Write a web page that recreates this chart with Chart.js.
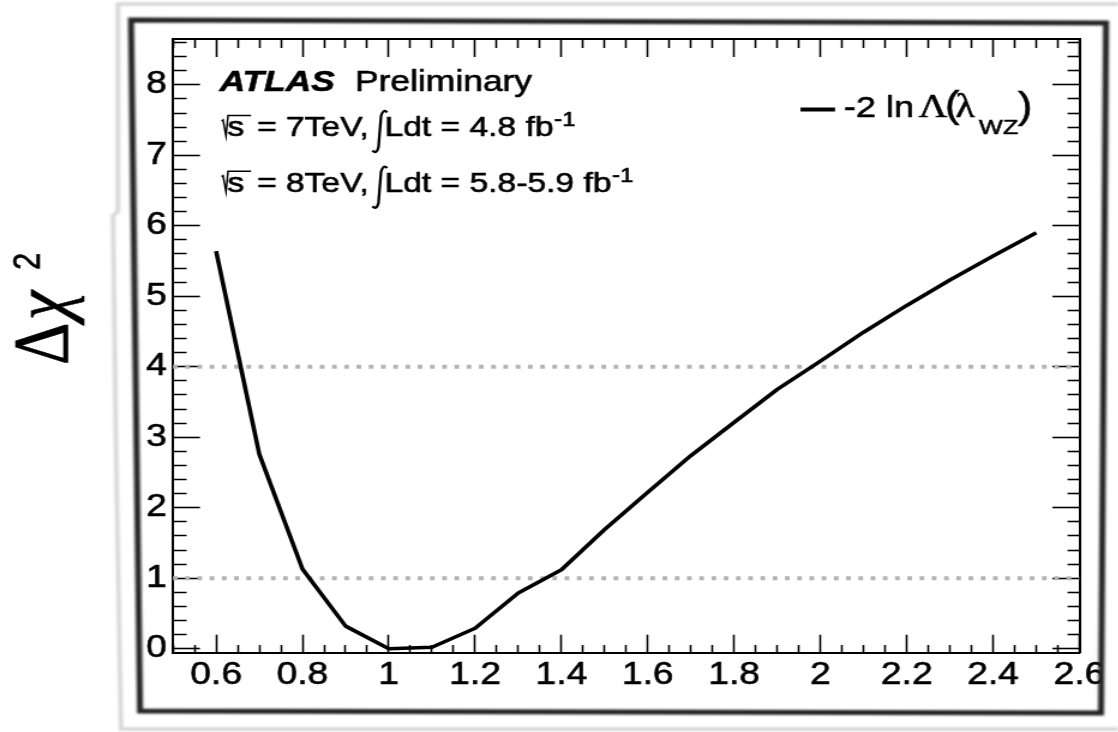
<!DOCTYPE html>
<html>
<head>
<meta charset="utf-8">
<script src="https://cdn.jsdelivr.net/npm/chart.js@4.4.0/dist/chart.umd.min.js"></script>
<style>
  html, body { margin: 0; padding: 0; background: #fff; overflow: hidden; }
  /* the plot is laid out narrow and widened on screen, like the scanned ROOT canvas */
  #wrap { position: absolute; left: 0; top: 0; width: 932px; height: 732px; transform: scaleX(1.2); transform-origin: 0 0; }
</style>
</head>
<body>
<div id="wrap"><canvas id="ShowChart" width="932" height="732"></canvas></div>
<script>
// likelihood scan in lambda_WZ
var lambda_wz = [0.6, 0.7, 0.8, 0.9, 1.0, 1.1, 1.2, 1.3, 1.4, 1.5, 1.6, 1.7, 1.8, 1.9, 2.0, 2.1, 2.2, 2.3, 2.4, 2.5]
var delta_chi2 = [5.64, 2.76, 1.13, 0.32, 0.00, 0.02, 0.29, 0.79, 1.12, 1.69, 2.22, 2.74, 3.21, 3.68, 4.08, 4.49, 4.87, 5.23, 5.57, 5.90]
// 1 and 2 sigma reference levels
var sigma_levels = [1, 4]

var x_labels = ["0.6", "0.8", "1", "1.2", "1.4", "1.6", "1.8", "2", "2.2", "2.4", "2.6"]
var y_labels = ["0", "1", "2", "3", "4", "5", "6", "7", "8"]
var x_range = [0.5, 2.6]
var y_range = [-0.057, 8.65]
var x_minor_step = 0.05
var y_minor_step = 0.2

var STRETCH = 1.2
var TEXT_STROKE = 0.6
function cx(x){ return x / STRETCH }   // screen px -> canvas px

function Tick_Values(min, max, step){
  var ticks = []
  for (var i = Math.ceil(min / step - 1e-9); i * step <= max + 1e-9; i++){
    ticks.push({value: Math.round(i * step * 1000) / 1000})
  }
  return ticks
}

function Is_Major(value, labels){
  return labels.indexOf(String(value)) >= 0
}

// ROOT style axis: ticks pointing into the frame, short minor ticks via dash pattern
function Make_Axis(position, labels, range, step, tick_len, minor_len, size, pad){
  var from_inside = (position == "left" || position == "top")
  return {
    type: "linear",
    position: position,
    axis: (position == "left" || position == "right") ? "y" : "x",
    min: range[0],
    max: range[1],
    afterBuildTicks: function(scale){ scale.ticks = Tick_Values(range[0], range[1], step) },
    afterFit: function(scale){
      if (scale.isHorizontal()) scale.height = size
      else scale.width = size
      // frame is fixed, labels may hang over the edges
      scale.paddingLeft = 0
      scale.paddingRight = 0
      scale.paddingTop = 0
      scale.paddingBottom = 0
    },
    border: {display: true, color: "#000", width: 2},
    grid: {
      drawOnChartArea: false,
      tickLength: -tick_len,
      tickColor: "#000",
      tickWidth: 1.6,
      tickBorderDash: function(ctx){
        if (!ctx.tick || Is_Major(ctx.tick.value, labels)) return []
        return from_inside ? [0, tick_len - minor_len, minor_len, 300] : [minor_len, 300]
      }
    },
    ticks: {
      display: pad != null,
      autoSkip: false,
      maxRotation: 0,
      minRotation: 0,
      padding: pad || 0,
      color: "#000",
      textStrokeColor: "#000",
      textStrokeWidth: TEXT_STROKE,
      font: {family: "'Liberation Sans', Arial, sans-serif", size: 31, lineHeight: 1},
      callback: function(value){ return Is_Major(value, labels) ? String(value) : "" }
    }
  }
}

function Draw_Text(c, text, x, y, font){
  c.font = font
  c.lineWidth = TEXT_STROKE
  c.strokeText(text, x, y)
  c.fillText(text, x, y)
  return x + c.measureText(text).width
}

function Energy_Line(c, base, energy, lumi){
  var f = "28px 'Liberation Sans'"
  // square root over s
  c.lineWidth = 1.5
  c.beginPath()
  c.moveTo(cx(221.5), base - 15)
  c.lineTo(cx(223), base - 16)
  c.lineTo(cx(226), base)
  c.lineTo(cx(228), base - 20.5)
  c.lineTo(cx(251), base - 20.5)
  c.stroke()
  Draw_Text(c, "s", cx(227.5), base, f)
  Draw_Text(c, "= " + energy + "TeV,", cx(257), base, f)
  // integral sign
  c.lineWidth = 2.3
  c.beginPath()
  c.moveTo(cx(387), base - 23.5)
  c.quadraticCurveTo(cx(383.5), base - 28, cx(381), base - 20)
  c.lineTo(cx(378.5), base + 11)
  c.quadraticCurveTo(cx(376.5), base + 19, cx(372.5), base + 14.5)
  c.stroke()
  var end = Draw_Text(c, "Ldt = " + lumi + " fb", cx(384.5), base, f)
  Draw_Text(c, "-1", end + 0.5, base - 10, "20px 'Liberation Sans'")
}

var Atlas_Labels = {
  id: "atlas_labels",
  afterDatasetsDraw: function(chart){
    var c = chart.ctx
    c.save()
    c.fillStyle = "#000"
    c.strokeStyle = "#000"
    c.textAlign = "left"
    c.textBaseline = "alphabetic"
    Draw_Text(c, "ATLAS", cx(219.5), 91, "italic bold 29.5px 'Liberation Sans'")
    Draw_Text(c, "Preliminary", cx(355), 91, "29.5px 'Liberation Sans'")
    Energy_Line(c, 136, "7", "4.8")
    Energy_Line(c, 191.7, "8", "5.8-5.9")

    // legend entry
    c.strokeStyle = chart.data.datasets[0].borderColor
    c.lineWidth = 4
    c.beginPath()
    c.moveTo(cx(800.5), 109.5)
    c.lineTo(cx(835), 109.5)
    c.stroke()
    Draw_Text(c, "-2 ln", cx(844), 116.7, "30px 'Liberation Sans'")
    Draw_Text(c, "\u039B", cx(918.5), 116.7, "33px 'Liberation Serif'")
    Draw_Text(c, "(", cx(945), 117, "36px 'Liberation Sans'")
    Draw_Text(c, "\u03BB", cx(955.5), 116.7, "33px 'Liberation Serif'")
    Draw_Text(c, "WZ", cx(979), 133.5, "21px 'Liberation Sans'")
    Draw_Text(c, ")", cx(1018), 118, "36px 'Liberation Sans'")
    c.restore()
  },
  afterDraw: function(chart){
    var c = chart.ctx
    var quad = [[131, 20], [1106, 23], [1101, 713], [140, 711]]
    c.save()
    // paper outside the frame
    c.fillStyle = "#fff"
    c.beginPath()
    c.rect(0, 0, chart.width, chart.height)
    c.moveTo(cx(quad[0][0]), quad[0][1])
    for (var i = 1; i < quad.length; i++) c.lineTo(cx(quad[i][0]), quad[i][1])
    c.closePath()
    c.fill("evenodd")

    c.filter = "blur(1px)"
    c.strokeStyle = "#242424"
    c.lineWidth = 5
    c.beginPath()
    c.moveTo(cx(quad[0][0]), quad[0][1])
    for (var i = 1; i < quad.length; i++) c.lineTo(cx(quad[i][0]), quad[i][1])
    c.closePath()
    c.stroke()

    c.strokeStyle = "#d6d6d6"
    c.lineWidth = 3.5
    c.beginPath()
    c.moveTo(cx(1118), 4)
    c.lineTo(cx(118), 4)
    c.lineTo(cx(118), 211)
    c.lineTo(cx(113), 216)
    c.lineTo(cx(116), 450)
    c.lineTo(cx(121), 729)
    c.lineTo(cx(1118), 729)
    c.stroke()
    c.filter = "none"

    // y axis title
    c.fillStyle = "#000"
    c.strokeStyle = "#000"
    c.textBaseline = "alphabetic"
    c.translate(cx(67), 365)
    c.rotate(-Math.PI / 2)
    Draw_Text(c, "\u0394", 0, 0, "66px 'Liberation Serif'")
    Draw_Text(c, "\u03C7", 45, 0, "italic 66px 'Liberation Serif'")
    Draw_Text(c, "2", 95, -23, "31px 'Liberation Sans'")
    c.restore()
  }
}

var Datasets = [{
  label: "-2 ln \u039B(\u03BBWZ)",
  data: lambda_wz.map(function(x, i){ return {x: x, y: delta_chi2[i]} }),
  borderColor: "#000",
  borderWidth: 3.6,
  borderJoinStyle: "round",
  pointRadius: 0,
  tension: 0
}]
for (var i = 0; i < sigma_levels.length; i++){
  Datasets.push({
    label: "level " + sigma_levels[i],
    data: [{x: x_range[0], y: sigma_levels[i]}, {x: x_range[1], y: sigma_levels[i]}],
    borderColor: "#b4b4b4",
    borderWidth: 4,
    borderDash: [3.9, 6.3],
    pointRadius: 0
  })
}

var ctx = document.getElementById("ShowChart").getContext("2d")
var ChartObject = new Chart(ctx, {
  type: "line",
  data: {datasets: Datasets},
  options: {
    responsive: false,
    animation: false,
    devicePixelRatio: 1,
    events: [],
    layout: {autoPadding: false, padding: {left: 0, right: 32.5, top: 39, bottom: 0}},
    plugins: {legend: {display: false}, tooltip: {enabled: false}},
    scales: {
      x: Make_Axis("bottom", x_labels, x_range, x_minor_step, 18, 9, 79.3, 25.2),
      x_top: Make_Axis("top", x_labels, x_range, x_minor_step, 18, 9, 0, null),
      y: Make_Axis("left", y_labels, y_range, y_minor_step, 22.5, 11.4, 144.1, 27.6),
      y_right: Make_Axis("right", y_labels, y_range, y_minor_step, 22.5, 11.4, 0, null)
    }
  },
  plugins: [Atlas_Labels]
})
</script>
</body>
</html>
